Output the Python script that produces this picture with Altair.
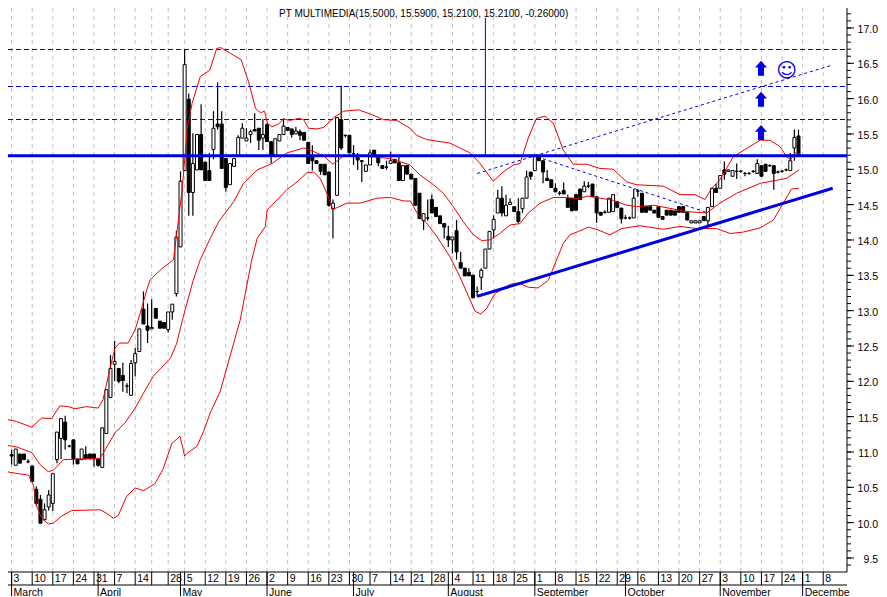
import altair as alt
import pandas as pd

opens = [10.99,10.84,11.0,11.0,10.89,10.83,10.5,10.36,10.07,10.25,
10.3,10.92,11.22,11.45,11.11,11.2,10.93,10.92,10.99,11.0,
11.0,10.93,10.81,11.29,11.8,12.27,12.21,12.11,11.96,11.83,
12.29,12.45,13.05,12.81,12.77,13.06,12.88,12.86,12.76,13.01,
13.27,13.93,15.01,16.02,14.7,15.02,15.52,15.13,15.01,15.31,
15.67,15.67,15.18,14.81,15.07,15.21,15.47,15.43,15.52,15.59,
15.61,15.47,15.66,15.42,15.23,15.43,15.52,15.62,15.6,15.53,
15.56,15.55,15.41,15.21,15.15,15.1,15.1,14.99,14.47,14.66,
15.73,15.51,15.51,15.25,15.23,15.15,15.0,15.09,15.3,15.22,
15.08,15.06,15.11,15.17,15.12,14.87,15.08,14.96,14.9,14.69,
14.3,14.34,14.6,14.49,14.37,14.26,14.08,14.03,14.16,13.71,
13.63,13.57,13.53,13.3,13.5,13.63,13.9,14.17,14.41,14.62,
14.37,14.53,14.5,14.43,14.47,14.62,14.99,15.01,15.21,15.15,
14.9,14.88,14.76,14.69,14.73,14.62,14.62,14.67,14.75,14.71,
14.79,14.82,14.64,14.42,14.42,14.42,14.43,14.57,14.48,14.34,
14.34,14.34,14.72,14.69,14.5,14.5,14.45,14.5,14.36,14.45,
14.45,14.44,14.5,14.5,14.42,14.27,14.27,14.27,14.36,14.3,
14.5,14.76,14.76,15.02,15.0,14.93,15.0,15.0,14.97,14.97,
15.0,14.97,15.08,15.1,15.08,15.08,14.99,15.0,15.02,15.01,15.33,15.5]
closes = [10.97,11.07,10.87,10.92,10.89,10.61,10.3,10.02,10.21,10.42,
10.72,11.31,11.5,11.2,11.11,10.93,10.86,11.07,10.93,10.93,
10.93,10.84,11.37,11.91,12.21,12.31,12.03,12.04,11.96,12.28,
12.42,12.77,12.84,12.75,12.79,12.92,12.78,12.78,13.01,13.12,
14.07,14.86,16.51,14.7,15.11,15.52,15.02,14.87,14.87,15.61,
15.63,15.04,14.77,15.11,15.18,15.48,15.61,15.47,15.56,15.57,
15.44,15.52,15.42,15.22,15.46,15.52,15.64,15.58,15.52,15.57,
15.51,15.44,15.11,15.15,15.11,15.0,14.95,14.52,14.55,15.76,
15.33,15.51,15.26,15.25,15.16,15.14,15.09,15.26,15.22,15.12,
15.04,15.06,15.15,15.12,14.87,15.08,14.96,14.89,14.52,14.33,
14.4,14.34,14.41,14.36,14.26,14.21,14.03,14.07,13.86,13.63,
13.52,13.52,13.21,13.3,13.6,13.9,14.15,14.32,14.62,14.41,
14.52,14.56,14.43,14.29,14.62,14.92,14.93,15.23,15.15,14.99,
14.87,14.77,14.71,14.69,14.68,14.49,14.44,14.45,14.6,14.79,
14.79,14.64,14.41,14.38,14.42,14.62,14.67,14.49,14.33,14.34,
14.34,14.62,14.72,14.42,14.42,14.45,14.41,14.35,14.32,14.38,
14.38,14.38,14.42,14.42,14.31,14.3,14.3,14.3,14.3,14.49,
14.76,14.7,14.94,14.96,15.02,15.01,15.0,15.0,14.97,14.97,
15.0,15.11,14.93,15.0,15.08,14.97,14.99,15.0,15.02,15.15,15.48,15.21]
highs = [11.06,11.07,11.0,11.0,10.93,10.83,10.54,10.42,10.3,10.49,
10.72,11.31,11.51,11.54,11.13,11.2,10.93,11.07,11.11,11.0,
11.0,10.93,11.37,11.91,12.4,12.6,12.21,12.29,12.0,12.33,
12.5,12.77,13.3,13.13,13.19,13.06,12.88,12.86,13.01,13.12,
14.16,15.0,16.72,16.1,15.54,15.52,15.95,15.13,15.26,15.85,
16.26,15.85,15.18,15.11,15.18,15.51,15.68,15.61,15.59,15.82,
15.61,15.74,15.68,15.42,15.46,15.52,15.75,15.62,15.6,15.63,
15.59,15.55,15.41,15.37,15.15,15.1,15.1,14.99,14.6,15.76,
16.21,15.51,15.51,15.37,15.26,15.15,15.09,15.31,15.3,15.22,
15.08,15.15,15.28,15.17,15.21,15.08,15.08,14.96,14.9,14.69,
14.41,14.6,14.67,14.49,14.37,14.26,14.23,14.07,14.31,13.86,
13.63,13.63,13.53,13.37,13.63,13.9,14.15,14.38,14.74,14.79,
14.67,14.62,14.5,14.62,14.62,15.01,14.99,15.23,15.21,15.15,
15.02,14.88,14.83,14.72,14.84,14.67,14.62,14.67,14.75,14.86,
14.85,14.82,14.64,14.42,14.45,14.62,14.68,14.57,14.48,14.38,
14.36,14.75,14.75,14.69,14.5,14.5,14.45,14.5,14.36,14.45,
14.45,14.44,14.5,14.5,14.42,14.3,14.3,14.3,14.36,14.49,
14.76,14.82,14.94,15.14,15.02,15.01,15.11,15.02,14.99,14.99,
15.02,15.17,15.08,15.1,15.1,15.08,15.01,15.02,15.04,15.26,15.59,15.59]
lows = [10.85,10.84,10.87,10.92,10.87,10.61,10.26,10.02,10.06,10.2,
10.19,10.87,10.93,11.06,11.09,10.85,10.86,10.92,10.93,10.93,
10.82,10.82,10.81,11.29,11.8,12.03,12.0,11.88,11.86,11.83,
12.1,12.45,12.84,12.57,12.77,12.92,12.78,12.78,12.72,12.9,
13.23,13.93,15.01,14.37,14.37,15.02,15.02,14.87,14.87,15.17,
15.59,15.04,14.71,14.81,15.07,15.21,15.47,15.43,15.4,15.57,
15.3,15.3,15.42,15.11,15.23,15.43,15.52,15.58,15.48,15.53,
15.44,15.44,15.11,15.01,15.11,14.95,14.95,14.5,14.05,14.66,
15.3,15.48,15.26,15.09,15.02,14.85,15.0,15.09,15.22,15.07,
15.04,15.02,15.11,15.12,14.87,14.87,14.96,14.89,14.51,14.33,
14.17,14.3,14.41,14.36,14.26,14.05,13.93,13.84,13.75,13.63,
13.52,13.52,13.21,13.23,13.32,13.63,13.9,14.05,14.41,14.36,
14.37,14.53,14.43,14.27,14.41,14.62,14.88,15.01,15.15,14.83,
14.87,14.77,14.71,14.66,14.68,14.49,14.44,14.45,14.6,14.71,
14.76,14.64,14.27,14.37,14.4,14.42,14.43,14.49,14.26,14.32,
14.32,14.34,14.64,14.42,14.42,14.45,14.41,14.35,14.32,14.38,
14.38,14.38,14.42,14.42,14.31,14.27,14.27,14.27,14.3,14.24,
14.5,14.7,14.76,14.88,15.0,14.93,14.89,14.98,14.93,14.95,
14.98,14.97,14.93,15.0,15.06,14.74,14.97,14.98,15.0,15.01,15.15,15.21]

upper_i = [-2.8,1.2,4.9,7.3,9.7,11.7,13.8,15.4,18.2,21,22.2,23.8,25.1,26.2,28.3,30,31.2,32.8,33.6,36,39.3,41.4,42.6,43.8,45.8,48.1,49.8,50.8,53.1,55.7,57.5,59.2,60.4,61.4,62.1,63.2,64.8,66,67.6,69.7,70.9,72.1,74.1,75.7,78.2,80.6,84.2,87.1,90.3,93.5,96.7,98.3,100.7,104,106.4,108.8,111.3,113.7,116.9,119.3,121.8,123.4,125.4,127.4,129.5,131.5,133.9,136.3,139.6,142.8,146,149.3,151.7,158.2,162.2,165.9,168.3,169.9,171.9,175.2,181.7,184.1,186.5,188.1,189.1,190.1,191.4]
upper_p = [11.51,11.46,11.38,11.51,11.5,11.68,11.67,11.64,11.67,11.65,11.77,12.19,12.5,12.57,12.57,12.76,12.99,13.32,13.46,13.6,13.75,14.74,15.59,15.96,16.34,16.43,16.74,16.75,16.67,16.58,16.27,15.89,15.83,15.85,15.68,15.63,15.67,15.74,15.72,15.75,15.73,15.61,15.6,15.62,15.76,15.85,15.87,15.81,15.73,15.72,15.61,15.51,15.45,15.42,15.4,15.33,15.26,15.11,14.86,14.99,15.09,15.11,15.47,15.75,15.78,15.68,15.3,15.1,15.1,15.04,15.03,14.85,14.81,14.79,14.67,14.67,14.6,14.76,14.88,15.21,15.44,15.44,15.35,15.21,15.16,15.26,15.25]
middle_i = [-2.8,1.2,4.9,6.9,8.9,10.1,12.6,17.4,21.5,22.7,25.1,27.5,30,32,34.4,38.6,40.1,41.7,44.1,45.8,48.2,50.3,53.9,56.3,59.6,63.2,66.8,70.9,73.3,75.7,78,80.6,83.8,88.7,91.9,96.7,99.1,102.4,104.8,107.2,109.6,112.1,114.1,116.1,118.5,121,123.4,125.4,128.3,131.5,134.7,137.1,140,142.8,146,149.3,151.7,155.8,163.9,168.7,171.9,176,181.7,188.1,191.1]
middle_p = [11.14,11.1,11.02,10.85,10.75,10.77,10.92,10.93,10.94,11.06,11.3,11.44,11.65,11.86,12.1,12.36,12.57,12.95,13.46,13.75,14.05,14.29,14.57,14.83,15.02,15.11,15.26,15.33,15.28,15.22,15.1,15.22,15.22,15.2,15.18,15.09,14.95,14.81,14.69,14.5,14.29,14.1,14.02,14.03,14.12,14.24,14.26,14.41,14.55,14.63,14.63,14.61,14.65,14.62,14.59,14.52,14.5,14.52,14.43,14.41,14.55,14.69,14.83,14.9,15.02]
lower_i = [-2.8,-0.4,4.1,5.3,6.1,7.3,8.9,10.1,12.1,14.6,21.5,23.1,24.7,25.9,27.9,30,32,34.8,36.8,38.9,40.9,42,42.6,45,46.6,48.2,50.6,55.5,58.3,59.6,61.6,62,64,66.8,69.3,71.7,73.3,74.9,76.5,78,81.4,84.6,88.7,91.9,95.2,96.8,98.7,100.7,103.2,106.4,108.8,110.9,112.5,113.9,115.3,117.3,121,123,125.4,127.8,130.3,132.3,133.9,135.5,137.6,140,142.4,145.2,148.1,152.5,158.2,162.2,166.3,171.1,174.4,177.6,181.7,184.9,187.3,189.3,191.1]
lower_p = [10.78,10.74,10.7,10.56,10.26,10.09,10.01,10.02,10.12,10.2,10.21,10.16,10.09,10.13,10.4,10.52,10.48,10.58,10.79,11.15,11.25,10.97,11.01,11.11,11.32,11.58,11.88,12.9,13.75,14.05,14.22,14.45,14.57,14.74,14.85,14.98,14.99,14.9,14.69,14.46,14.55,14.55,14.62,14.63,14.58,14.58,14.38,14.27,14.08,13.79,13.51,13.23,13.02,12.98,13.06,13.27,13.4,13.42,13.36,13.35,13.46,13.75,13.98,14.1,14.15,14.21,14.17,14.1,14.19,14.23,14.18,14.22,14.19,14.19,14.12,14.14,14.2,14.31,14.55,14.75,14.76]

week_i = [0,5,10,15,20,25,30,34,38,42,47,52,57,62,67,72,77,82,87,92,97,102,107,112,117,122,127,132,137,142,147,152,157,162,167,172,177,182,187,192,197]
week_label = ["3","10","17","24","31","7","14","","28","5","12","19","26","2","9","16","23","30","7","14","21","28","4","11","18","25","1","8","15","22","29","6","13","20","27","3","10","17","24","1","8"]
month_i = [0,21,41,62,83,106,127,149,172,192]
month_label = ["March","April","May","June","July","August","September","October","November","Decembe"]

dashed_levels = [16.724,16.2,15.733]
support_level = [15.22]
price_ticks = [9.5,10.0,10.5,11.0,11.5,12.0,12.5,13.0,13.5,14.0,14.5,15.0,15.5,16.0,16.5,17.0]
price_labels = ["9.5","10.0","10.5","11.0","11.5","12.0","12.5","13.0","13.5","14.0","14.5","15.0","15.5","16.0","16.5","17.0"]
minor_ticks = [round(9.4 + 0.1 * k, 1) for k in range(80)]
trend_i = [113, 199.3]
trend_p = [13.23, 14.76]
fan_up_i = [113, 199]
fan_up_p = [14.97, 16.5]
fan_down_i = [126.2, 168.7]
fan_down_p = [15.23, 14.42]
arrow_i = [181.9, 181.9, 181.9]
arrow_p = [15.55, 16.02, 16.46]
title_text = "PT MULTIMEDIA(15.5000, 15.5900, 15.2100, 15.2100, -0.26000)"

W, H = 839, 564
FONT = "Liberation Sans"
BLUE = "#0000e0"
RED = "#f00000"
xs = alt.Scale(domain=[-0.874, 202.77], nice=False, zero=False, padding=0)
ys = alt.Scale(domain=[9.33, 17.311], nice=False, zero=False, padding=0)
X = lambda f="i": alt.X(f + ":Q", scale=xs, axis=None)
Y = lambda f="p": alt.Y(f + ":Q", scale=ys, axis=None)

candles = pd.DataFrame({"i": range(len(opens)), "open": opens, "high": highs, "low": lows, "close": closes})
candles["dir"] = ["up" if c > o else "down" for o, c in zip(opens, closes)]

weeks = pd.DataFrame({"i": week_i, "t": week_label})
months = pd.DataFrame({"i": month_i, "t": month_label})
prices = pd.DataFrame({"p": price_ticks, "t": price_labels})

grid = alt.Chart(weeks).mark_rule(color="#c0c0c0", strokeDash=[4, 4], strokeWidth=1).encode(
    x=X(), y=alt.value(0), y2=alt.value(H))
dashes = alt.Chart(pd.DataFrame({"p": dashed_levels})).mark_rule(color=BLUE, strokeDash=[5, 3], strokeWidth=1).encode(
    y=Y(), x=alt.value(0), x2=alt.value(W))
y_line = alt.Chart(pd.DataFrame({"a": [0]})).mark_rule(color="black").encode(
    x=alt.value(W), y=alt.value(0), y2=alt.value(H))
minor = alt.Chart(pd.DataFrame({"p": minor_ticks})).mark_rule(color="black", yOffset=-2).encode(
    y=Y(), x=alt.value(W), x2=alt.value(W + 4))
major = alt.Chart(prices).mark_rule(color="black", yOffset=-2).encode(
    y=Y(), x=alt.value(W), x2=alt.value(W + 7))
price_text = alt.Chart(prices).mark_text(font=FONT, fontSize=10.5, align="right", baseline="middle", color="black").encode(
    y=Y(), x=alt.value(870), text="t:N")
wicks = alt.Chart(candles).mark_rule(color="black", strokeWidth=1.2).encode(
    x=X(), y=Y("low"), y2="high:Q")
bodies = alt.Chart(candles).mark_bar(size=3, stroke="black", strokeWidth=1, orient="vertical").encode(
    x=X(), y=Y("open"), y2="close:Q",
    fill=alt.Fill("dir:N", scale=alt.Scale(domain=["up", "down"], range=["white", "black"]), legend=None))

def series(ix, px, **kw):
    return alt.Chart(pd.DataFrame({"i": ix, "p": px})).mark_line(clip=True, **kw).encode(
        x=X(), y=Y(), order="i:Q")

band_u = series(upper_i, upper_p, color=RED, strokeWidth=1)
band_m = series(middle_i, middle_p, color=RED, strokeWidth=1)
band_l = series(lower_i, lower_p, color=RED, strokeWidth=1)
trend = series(trend_i, trend_p, color=BLUE, strokeWidth=3)
fan_up = series(fan_up_i, fan_up_p, color=BLUE, strokeWidth=1, strokeDash=[3, 3])
fan_dn = series(fan_down_i, fan_down_p, color=BLUE, strokeWidth=1, strokeDash=[3, 3])
support = alt.Chart(pd.DataFrame({"p": support_level})).mark_rule(color=BLUE, strokeWidth=3).encode(
    y=Y(), x=alt.value(0), x2=alt.value(W))
spike = alt.Chart(pd.DataFrame({"i": [115], "a": [17.17], "b": [15.22]})).mark_rule(color=BLUE, strokeWidth=1).encode(
    x=X(), y=Y("a"), y2="b:Q")
ARROW = "M0,-1 L0.8,-0.1 L0.4,-0.1 L0.4,1 L-0.4,1 L-0.4,-0.1 L-0.8,-0.1 Z"
arrows = alt.Chart(pd.DataFrame({"i": arrow_i, "p": arrow_p})).mark_point(
    shape=ARROW, size=225, filled=True, color=BLUE, opacity=1).encode(x=X(), y=Y())
smiley = alt.Chart(pd.DataFrame({"i": [188.1], "p": [16.42], "t": ["\u263A"]})).mark_text(
    font="DejaVu Sans", fontSize=20, color=BLUE).encode(x=X(), y=Y(), text="t:N")
title = alt.Chart(pd.DataFrame({"t": [title_text]})).mark_text(
    font=FONT, fontSize=10, align="left", baseline="alphabetic", color="black").encode(
    x=alt.value(271), y=alt.value(9), text="t:N")

top_line = alt.Chart(pd.DataFrame({"a": [0]})).mark_rule(color="black").encode(
    x=alt.value(0), x2=alt.value(W), y=alt.value(H))
mid_line = alt.Chart(pd.DataFrame({"a": [0]})).mark_rule(color="black").encode(
    x=alt.value(0), x2=alt.value(W), y=alt.value(577))
week_ticks = alt.Chart(weeks).mark_rule(color="black").encode(x=X(), y=alt.value(H), y2=alt.value(577))
month_ticks = alt.Chart(months).mark_rule(color="black").encode(x=X(), y=alt.value(H), y2=alt.value(589))
week_text = alt.Chart(weeks).mark_text(font=FONT, fontSize=10.5, align="left", baseline="middle", dx=2, color="black").encode(
    x=X(), y=alt.value(571), text="t:N")
month_text = alt.Chart(months).mark_text(font=FONT, fontSize=10.5, align="left", baseline="middle", dx=2, color="black").encode(
    x=X(), y=alt.value(584.5), text="t:N")

chart = alt.layer(
    grid, dashes, y_line, minor, major, price_text, wicks, bodies, band_u, band_m, band_l,
    fan_up, fan_dn, trend, support, spike, arrows, smiley, title,
    top_line, mid_line, week_ticks, month_ticks, week_text, month_text,
).properties(
    width=W, height=H,
    padding={"left": 0, "top": 0, "right": 32, "bottom": 24},
    autosize=alt.AutoSizeParams(type="none", contains="content"),
    background="white",
).configure_view(stroke=None)

chart.save("out.html", embed_options={"renderer": "svg", "actions": False})
